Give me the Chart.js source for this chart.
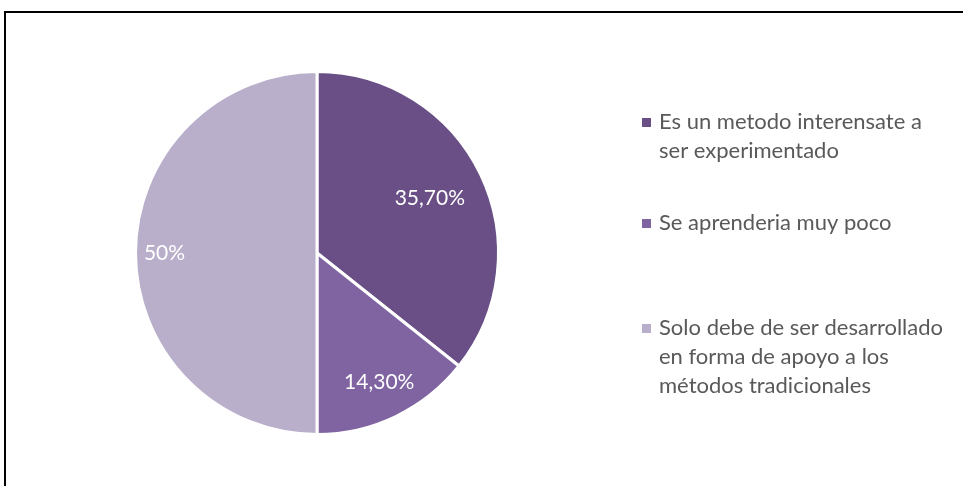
<!DOCTYPE html>
<html>
<head>
<meta charset="utf-8">
<script src="https://cdn.jsdelivr.net/npm/chart.js@4.4.1/dist/chart.umd.min.js"></script>
<style>
  html, body { margin: 0; padding: 0; background: #fff; overflow: hidden; }
  #wrap { position: relative; width: 963px; height: 486px; }
  #frame { position: absolute; left: 4px; top: 11px; width: 1000px; height: 600px;
           border-top: 2px solid #000; border-left: 2px solid #000; }
  canvas { position: absolute; left: 0; top: 0; }
</style>
</head>
<body>
<div id="wrap">
  <div id="frame"></div>
  <canvas id="pieChart" width="963" height="486"></canvas>
</div>
<script>
// datos del grafico
var categorias = [
  "Es un metodo interensate a ser experimentado",
  "Se aprenderia muy poco",
  "Solo debe de ser desarrollado en forma de apoyo a los métodos tradicionales"
];
var lineasLeyenda = [
  ["Es un metodo interensate a", "ser experimentado"],
  ["Se aprenderia muy poco"],
  ["Solo debe de ser desarrollado", "en forma de apoyo a los", "métodos tradicionales"]
];
var valores = [35.7, 14.3, 50];
var etiquetas = ["35,70%", "14,30%", "50%"];
var colores = ["#694f86", "#8064a2", "#b9afca"];

// estilo de etiquetas y leyenda
var distEtiqueta = [0.69, 0.79, 0.84]; // fraccion del radio
var leyendaX = 642;
var leyendaY = [122, 223, 328]; // primera linea de cada entrada
var altoLinea = 29;

var etiquetasPlugin = {
  id: "etiquetas",
  afterDatasetsDraw: function (chart) {
    var ctx = chart.ctx;
    var arcs = chart.getDatasetMeta(0).data;
    ctx.save();
    ctx.font = "21px Lato";
    ctx.fillStyle = "#ffffff";
    ctx.textAlign = "center";
    ctx.textBaseline = "middle";
    arcs.forEach(function (arc, i) {
      var mid = (arc.startAngle + arc.endAngle) / 2;
      var r = arc.outerRadius * distEtiqueta[i];
      ctx.fillText(etiquetas[i], arc.x + Math.cos(mid) * r, arc.y + Math.sin(mid) * r);
    });
    ctx.restore();
  }
};

var leyendaPlugin = {
  id: "leyenda",
  afterDraw: function (chart) {
    var ctx = chart.ctx;
    ctx.save();
    ctx.font = "22px Lato";
    ctx.textBaseline = "middle";
    ctx.textAlign = "left";
    lineasLeyenda.forEach(function (lineas, i) {
      var y0 = leyendaY[i];
      ctx.fillStyle = colores[i];
      ctx.fillRect(leyendaX, y0 - 4, 9, 9);
      ctx.fillStyle = "#595959";
      lineas.forEach(function (t, j) {
        ctx.fillText(t, leyendaX + 17, y0 + j * altoLinea);
      });
    });
    ctx.restore();
  }
};

var ctx = document.getElementById("pieChart").getContext("2d");
var pieChart = new Chart(ctx, {
  type: "pie",
  data: {
    labels: categorias,
    datasets: [
      {
        data: valores,
        backgroundColor: colores,
        borderColor: "#ffffff",
        borderWidth: 3
      }
    ]
  },
  options: {
    responsive: false,
    animation: false,
    layout: {
      padding: { left: 134, top: 70, right: 463, bottom: 50 }
    },
    plugins: {
      legend: { display: false },
      tooltip: { enabled: false }
    }
  },
  plugins: [etiquetasPlugin, leyendaPlugin]
});
</script>
</body>
</html>
